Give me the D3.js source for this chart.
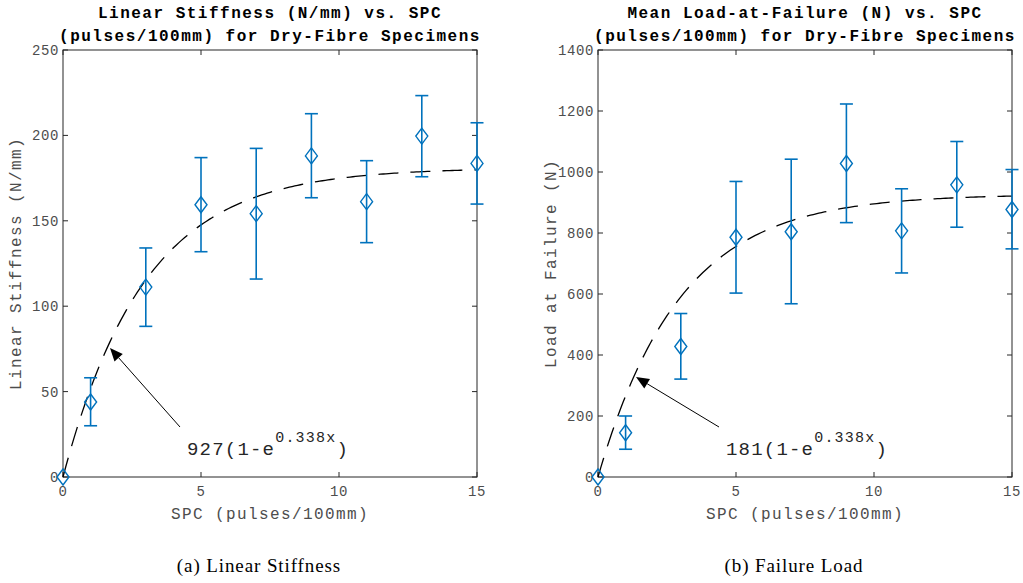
<!DOCTYPE html>
<html>
<head>
<meta charset="utf-8">
<script src="https://cdn.jsdelivr.net/npm/d3@7"></script>
<style>
  html, body { margin: 0; padding: 0; background: #fff; }
  svg { display: block; }
</style>
</head>
<body>
<svg id="chart" width="1023" height="583"></svg>
<script>
// ---- Data ----
const spc = [0, 1, 3, 5, 7, 9, 11, 13, 15];

const stiffMean  = [0, 43.9, 111.2, 159.4, 154.2, 188.0, 161.2, 199.6, 183.6];
const stiffLower = [0, 30.0, 88.2, 131.9, 115.9, 163.5, 137.2, 175.8, 159.8];
const stiffUpper = [0, 58.1, 134.1, 187.0, 192.4, 212.7, 185.2, 223.3, 207.4];

const loadMean  = [0, 145, 428, 786, 804, 1028, 807, 958, 877];
const loadLower = [0, 91, 321, 603, 568, 834, 669, 819, 748];
const loadUpper = [0, 200, 536, 969, 1042, 1223, 945, 1100, 1008];

const xTicks = [0, 5, 10, 15];
const stiffTicks = [0, 50, 100, 150, 200, 250];
const loadTicks = [0, 200, 400, 600, 800, 1000, 1200, 1400];

// fit parameters (curve A(1-e^{-kx}))
const fitRate = 0.338;
const stiffAsym = 181;
const loadAsym = 927;
const fitX = d3.range(0, 15.0001, 0.1);

const svg = d3.select("#chart");
const mono = "'Liberation Mono', 'Courier New', monospace";
const blue = "#0072BD";
const axisCol = "#262626";
const tickCol = "#4d4d4d";

function panel(opts) {
  const {left, right, top, bottom, yMax, yTicks, mean, lower, upper, asym,
         titleLines, yLabel, annText, annTip, annTail, caption} = opts;
  const g = svg.append("g");
  const x = d3.scaleLinear().domain([0, 15]).range([left, right]);
  const y = d3.scaleLinear().domain([0, yMax]).range([bottom, top]);

  // box
  g.append("rect").attr("x", left).attr("y", top)
    .attr("width", right - left).attr("height", bottom - top)
    .attr("fill", "none").attr("stroke", axisCol).attr("stroke-width", 1);

  const tl = 5;
  xTicks.forEach(t => {
    g.append("line").attr("x1", x(t)).attr("x2", x(t)).attr("y1", bottom).attr("y2", bottom - tl)
      .attr("stroke", axisCol);
    g.append("line").attr("x1", x(t)).attr("x2", x(t)).attr("y1", top).attr("y2", top + tl)
      .attr("stroke", axisCol);
    g.append("text").attr("x", x(t)).attr("y", bottom + 19)
      .attr("text-anchor", "middle").attr("font-family", mono).attr("font-size", 14)
      .attr("letter-spacing", 0.6).attr("fill", tickCol).text(t);
  });
  yTicks.forEach(t => {
    g.append("line").attr("x1", left).attr("x2", left + tl).attr("y1", y(t)).attr("y2", y(t))
      .attr("stroke", axisCol);
    g.append("line").attr("x1", right).attr("x2", right - tl).attr("y1", y(t)).attr("y2", y(t))
      .attr("stroke", axisCol);
    g.append("text").attr("x", left - 4).attr("y", y(t) + 5)
      .attr("text-anchor", "end").attr("font-family", mono).attr("font-size", 14)
      .attr("letter-spacing", 0.6).attr("fill", tickCol).text(t);
  });

  // axis labels
  g.append("text").attr("x", (left + right) / 2).attr("y", bottom + 42)
    .attr("text-anchor", "middle").attr("font-family", mono).attr("font-size", 16)
    .attr("letter-spacing", 1.4).attr("fill", tickCol).text("SPC (pulses/100mm)");
  g.append("text")
    .attr("transform", `translate(${left - 42},${(top + bottom) / 2}) rotate(-90)`)
    .attr("text-anchor", "middle").attr("font-family", mono).attr("font-size", 16)
    .attr("letter-spacing", 1.4).attr("fill", tickCol).text(yLabel);

  // title
  titleLines.forEach((ln, i) => {
    g.append("text").attr("x", (left + right) / 2).attr("y", 18 + i * 23)
      .attr("text-anchor", "middle").attr("font-family", mono).attr("font-size", 16)
      .attr("font-weight", "bold").attr("letter-spacing", 1.5).attr("fill", "#000").text(ln);
  });

  // fit curve
  const line = d3.line().x(d => x(d)).y(d => y(asym * (1 - Math.exp(-fitRate * d))));
  g.append("path").datum(fitX).attr("d", line).attr("fill", "none")
    .attr("stroke", "#000").attr("stroke-width", 1.3).attr("stroke-dasharray", "20,12");

  // error bars
  const cw = 6.5;
  spc.forEach((sx, i) => {
    if (upper[i] !== lower[i]) {
      g.append("line").attr("x1", x(sx)).attr("x2", x(sx)).attr("y1", y(lower[i])).attr("y2", y(upper[i]))
        .attr("stroke", blue).attr("stroke-width", 1.6);
      [lower[i], upper[i]].forEach(v => {
        g.append("line").attr("x1", x(sx) - cw).attr("x2", x(sx) + cw).attr("y1", y(v)).attr("y2", y(v))
          .attr("stroke", blue).attr("stroke-width", 1.6);
      });
    }
    const cx = x(sx), cy = y(mean[i]);
    g.append("path")
      .attr("d", `M${cx},${cy - 8}L${cx + 6},${cy}L${cx},${cy + 8}L${cx - 6},${cy}Z`)
      .attr("fill", "none").attr("stroke", blue).attr("stroke-width", 1.4);
  });

  // annotation arrow
  const [tx, ty] = annTip, [sx0, sy0] = annTail;
  const ang = Math.atan2(ty - sy0, tx - sx0);
  const hl = 13, hw = 5.5;
  const bx = tx - hl * Math.cos(ang), by = ty - hl * Math.sin(ang);
  g.append("line").attr("x1", sx0).attr("y1", sy0).attr("x2", bx).attr("y2", by)
    .attr("stroke", "#000").attr("stroke-width", 1);
  g.append("path")
    .attr("d", `M${tx},${ty}L${bx + hw * Math.sin(ang)},${by - hw * Math.cos(ang)}L${bx - hw * Math.sin(ang)},${by + hw * Math.cos(ang)}Z`)
    .attr("fill", "#000");

  const at = g.append("text").attr("x", sx0 + 7).attr("y", 455)
    .attr("font-family", mono).attr("fill", "#262626");
  at.append("tspan").attr("font-size", 19).attr("letter-spacing", 1.2).text(annText + "(1-e");
  at.append("tspan").attr("font-size", 15).attr("letter-spacing", 1.2).attr("dy", -13).text("0.338x");
  at.append("tspan").attr("font-size", 19).attr("letter-spacing", 1.2).attr("dy", 13).text(")");

  // caption
  g.append("text").attr("x", (left + right) / 2 - 11).attr("y", 572)
    .attr("text-anchor", "middle").attr("font-family", "'Liberation Serif', 'DejaVu Serif', serif")
    .attr("font-size", 19).attr("letter-spacing", 0.9).attr("fill", "#000").text(caption);
}

panel({
  left: 63, right: 477, top: 50, bottom: 477, yMax: 250, yTicks: stiffTicks,
  mean: stiffMean, lower: stiffLower, upper: stiffUpper, asym: stiffAsym,
  titleLines: ["Linear Stiffness (N/mm) vs. SPC", "(pulses/100mm) for Dry-Fibre Specimens"],
  yLabel: "Linear Stiffness (N/mm)", annText: "927",
  annTip: [110, 348], annTail: [180, 427], caption: "(a) Linear Stiffness"
});
panel({
  left: 598, right: 1012, top: 50, bottom: 477, yMax: 1400, yTicks: loadTicks,
  mean: loadMean, lower: loadLower, upper: loadUpper, asym: loadAsym,
  titleLines: ["Mean Load-at-Failure (N) vs. SPC", "(pulses/100mm) for Dry-Fibre Specimens"],
  yLabel: "Load at Failure (N)", annText: "181",
  annTip: [636, 377], annTail: [719, 427], caption: "(b) Failure Load"
});
</script>
</body>
</html>
